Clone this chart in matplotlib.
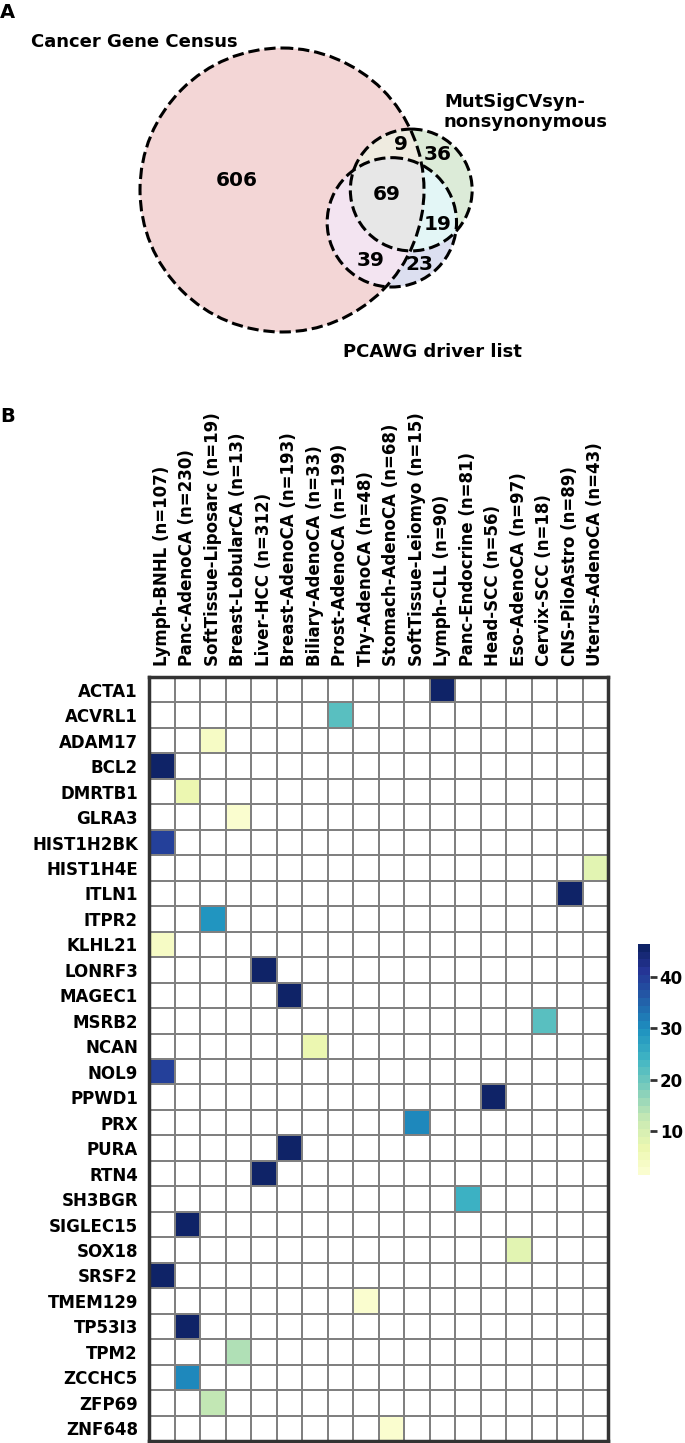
import numpy as np
import matplotlib
matplotlib.use('Agg')
import matplotlib.pyplot as plt
from matplotlib.colors import ListedColormap
from matplotlib.patches import Circle, Polygon

plt.rcParams['font.family'] = ['DejaVu Sans']
plt.rcParams['font.weight'] = 'bold'

# ---- panel A data: venn regions (CGC, MutSigCV, PCAWG membership flags)
set_names = ['Cancer Gene Census', 'MutSigCVsyn-\nnonsynonymous', 'PCAWG driver list']
region_keys = ['100', '010', '110', '001', '101', '011', '111']
region_counts = [606, 36, 9, 23, 39, 19, 69]
region_colors = ['#f3d6d6', '#dcebd8', '#efebe0', '#dcdff0', '#f3e4f1', '#e3f6f6', '#e7e7e7']

# ---- panel B data: one hit per gene
genes = ['ACTA1', 'ACVRL1', 'ADAM17', 'BCL2', 'DMRTB1', 'GLRA3', 'HIST1H2BK', 'HIST1H4E',
         'ITLN1', 'ITPR2', 'KLHL21', 'LONRF3', 'MAGEC1', 'MSRB2', 'NCAN', 'NOL9', 'PPWD1',
         'PRX', 'PURA', 'RTN4', 'SH3BGR', 'SIGLEC15', 'SOX18', 'SRSF2', 'TMEM129', 'TP53I3',
         'TPM2', 'ZCCHC5', 'ZFP69', 'ZNF648']
cohorts = ['Lymph-BNHL (n=107)', 'Panc-AdenoCA (n=230)', 'SoftTissue-Liposarc (n=19)',
           'Breast-LobularCA (n=13)', 'Liver-HCC (n=312)', 'Breast-AdenoCA (n=193)',
           'Biliary-AdenoCA (n=33)', 'Prost-AdenoCA (n=199)', 'Thy-AdenoCA (n=48)',
           'Stomach-AdenoCA (n=68)', 'SoftTissue-Leiomyo (n=15)', 'Lymph-CLL (n=90)',
           'Panc-Endocrine (n=81)', 'Head-SCC (n=56)', 'Eso-AdenoCA (n=97)',
           'Cervix-SCC (n=18)', 'CNS-PiloAstro (n=89)', 'Uterus-AdenoCA (n=43)']
hit_cohort = ['Lymph-CLL (n=90)', 'Prost-AdenoCA (n=199)', 'SoftTissue-Liposarc (n=19)',
              'Lymph-BNHL (n=107)', 'Panc-AdenoCA (n=230)', 'Breast-LobularCA (n=13)',
              'Lymph-BNHL (n=107)', 'Uterus-AdenoCA (n=43)', 'CNS-PiloAstro (n=89)',
              'SoftTissue-Liposarc (n=19)', 'Lymph-BNHL (n=107)', 'Liver-HCC (n=312)',
              'Breast-AdenoCA (n=193)', 'Cervix-SCC (n=18)', 'Biliary-AdenoCA (n=33)',
              'Lymph-BNHL (n=107)', 'Head-SCC (n=56)', 'SoftTissue-Leiomyo (n=15)',
              'Breast-AdenoCA (n=193)', 'Liver-HCC (n=312)', 'Panc-Endocrine (n=81)',
              'Panc-AdenoCA (n=230)', 'Eso-AdenoCA (n=97)', 'Lymph-BNHL (n=107)',
              'Thy-AdenoCA (n=48)', 'Panc-AdenoCA (n=230)', 'Breast-LobularCA (n=13)',
              'Panc-AdenoCA (n=230)', 'SoftTissue-Liposarc (n=19)', 'Stomach-AdenoCA (n=68)']
hit_value = [46.4, 22, 3, 46.4, 7, 2.5, 40, 7.5, 46.4, 29, 3.5, 46.4, 46.4, 22, 7, 40, 46.4,
             31, 46.4, 46.4, 24, 46.4, 7.5, 46.4, 1.4, 46.4, 14, 31, 12, 2.5]

W, H = 685, 1443
fig = plt.figure(figsize=(W / 100, H / 100), dpi=100)


# ---------------- venn geometry (area proportional)
def lens_area(r1, r2, d):
    if d >= r1 + r2:
        return 0.0
    if d <= abs(r1 - r2):
        return np.pi * min(r1, r2) ** 2
    a1 = np.arccos((d * d + r1 * r1 - r2 * r2) / (2 * d * r1))
    a2 = np.arccos((d * d + r2 * r2 - r1 * r1) / (2 * d * r2))
    k = np.sqrt((-d + r1 + r2) * (d + r1 - r2) * (d - r1 + r2) * (d + r1 + r2))
    return r1 * r1 * a1 + r2 * r2 * a2 - 0.5 * k


def find_dist(r1, r2, target):
    lo, hi = abs(r1 - r2), r1 + r2
    for _ in range(100):
        mid = (lo + hi) / 2
        if lens_area(r1, r2, mid) > target:
            lo = mid
        else:
            hi = mid
    return (lo + hi) / 2


cnt = dict(zip(region_keys, region_counts))
set_size = [sum(c for k, c in cnt.items() if k[i] == '1') for i in range(3)]
pair_size = {}
for i in range(3):
    for j in range(i + 1, 3):
        pair_size[(i, j)] = sum(c for k, c in cnt.items() if k[i] == '1' and k[j] == '1')
radii = [np.sqrt(s / np.pi) for s in set_size]
dAB = find_dist(radii[0], radii[1], pair_size[(0, 1)])
dAC = find_dist(radii[0], radii[2], pair_size[(0, 2)])
dBC = find_dist(radii[1], radii[2], pair_size[(1, 2)])
cx = (dAB ** 2 + dAC ** 2 - dBC ** 2) / (2 * dAB)
cy = np.sqrt(max(dAC ** 2 - cx ** 2, 0))
raw_centers = np.array([[0, 0], [dAB, 0], [cx, cy]])

# place into pixel space of the top panel (y down)
scale = 142 / radii[0]
centers = raw_centers * scale + np.array([282, 190])
rads = np.array(radii) * scale

axv = fig.add_axes([0, 1 - 400 / H, 1, 400 / H])
axv.set_xlim(0, W)
axv.set_ylim(400, 0)
axv.axis('off')


def convex_inter(idx):
    pts = []
    for i in idx:
        t = np.linspace(0, 2 * np.pi, 1440)
        p = centers[i] + rads[i] * np.c_[np.cos(t), np.sin(t)]
        ok = np.ones(len(p), bool)
        for j in idx:
            if j != i:
                ok &= np.hypot(*(p - centers[j]).T) <= rads[j] + 1e-6
        pts.append(p[ok])
    pts = np.vstack(pts)
    m = pts.mean(axis=0)
    order = np.argsort(np.arctan2(pts[:, 1] - m[1], pts[:, 0] - m[0]))
    return pts[order]


col = dict(zip(region_keys, region_colors))
for i, key in enumerate(['100', '010', '001']):
    axv.add_patch(Circle(centers[i], rads[i], facecolor=col[key], edgecolor='none', zorder=1))
for idx, key in [((0, 1), '110'), ((0, 2), '101'), ((1, 2), '011'), ((0, 1, 2), '111')]:
    axv.add_patch(Polygon(convex_inter(idx), closed=True, facecolor=col[key], edgecolor='none', zorder=2))
for i in range(3):
    axv.add_patch(Circle(centers[i], rads[i], facecolor='none', edgecolor='black',
                         linestyle='--', linewidth=2.2, zorder=3))

# region label at the most interior grid point of each region
gx, gy = np.meshgrid(np.arange(0, W, 1.0), np.arange(0, 400, 1.0))
dist = [np.hypot(gx - c[0], gy - c[1]) for c in centers]
inside = [d <= r for d, r in zip(dist, rads)]
depth = np.min([np.abs(d - r) for d, r in zip(dist, rads)], axis=0)
for key, c in zip(region_keys, region_counts):
    m = np.ones_like(gx, bool)
    for i in range(3):
        m &= inside[i] if key[i] == '1' else ~inside[i]
    sc = np.where(m, depth, -1)
    k = np.argmax(sc)
    axv.text(gx.flat[k], gy.flat[k], str(c), ha='center', va='center', fontsize=14.5,
             fontweight='bold', zorder=4)

axv.text(134, 42, set_names[0], ha='center', va='center', fontsize=13, fontweight='bold')
axv.text(444, 112, set_names[1], ha='left', va='center', fontsize=13, fontweight='bold',
         linespacing=1.1)
axv.text(432, 352, set_names[2], ha='center', va='center', fontsize=13, fontweight='bold')

fig.text(0.0, 1 - 12 / H, 'A', ha='left', va='center', fontsize=14, fontweight='bold',
         family=['Liberation Sans Narrow', 'DejaVu Sans'])
fig.text(0.0, 1 - 416 / H, 'B', ha='left', va='center', fontsize=14, fontweight='bold',
         family=['Liberation Sans Narrow', 'DejaVu Sans'])

# ---------------- heatmap
mat = np.full((len(genes), len(cohorts)), np.nan)
for g, c, v in zip(genes, hit_cohort, hit_value):
    mat[genes.index(g), cohorts.index(c)] = v

cmap = ListedColormap(plt.get_cmap('YlGnBu')(np.linspace(0, 1, 32)[1:-1]))
cmap.set_bad('white')

axh = fig.add_axes([149 / W, (H - 1441) / H, 459 / W, 764 / H])
mesh = axh.pcolormesh(np.ma.masked_invalid(mat), cmap=cmap, edgecolors='#808080', linewidth=1.2)
axh.set_xlim(0, len(cohorts))
axh.set_ylim(len(genes), 0)
axh.xaxis.tick_top()
axh.set_xticks(np.arange(len(cohorts)) + 0.5)
axh.set_xticklabels(cohorts, rotation=90, fontsize=12, fontweight='bold')
axh.set_yticks(np.arange(len(genes)) + 0.5)
axh.set_yticklabels(genes, fontsize=12, fontweight='bold')
axh.tick_params(length=0, pad=8)
for s in axh.spines.values():
    s.set_linewidth(2.5)
    s.set_color('#333333')

cax = fig.add_axes([638 / W, (H - 1175) / H, 12 / W, 231 / H])
cb = fig.colorbar(mesh, cax=cax, ticks=[10, 20, 30, 40])
cb.outline.set_visible(False)
cax.tick_params(length=5, width=2, color='#333333', labelsize=12, pad=2)
for t in cax.get_yticklabels():
    t.set_fontweight('bold')

fig.savefig('out.png', dpi=100)
